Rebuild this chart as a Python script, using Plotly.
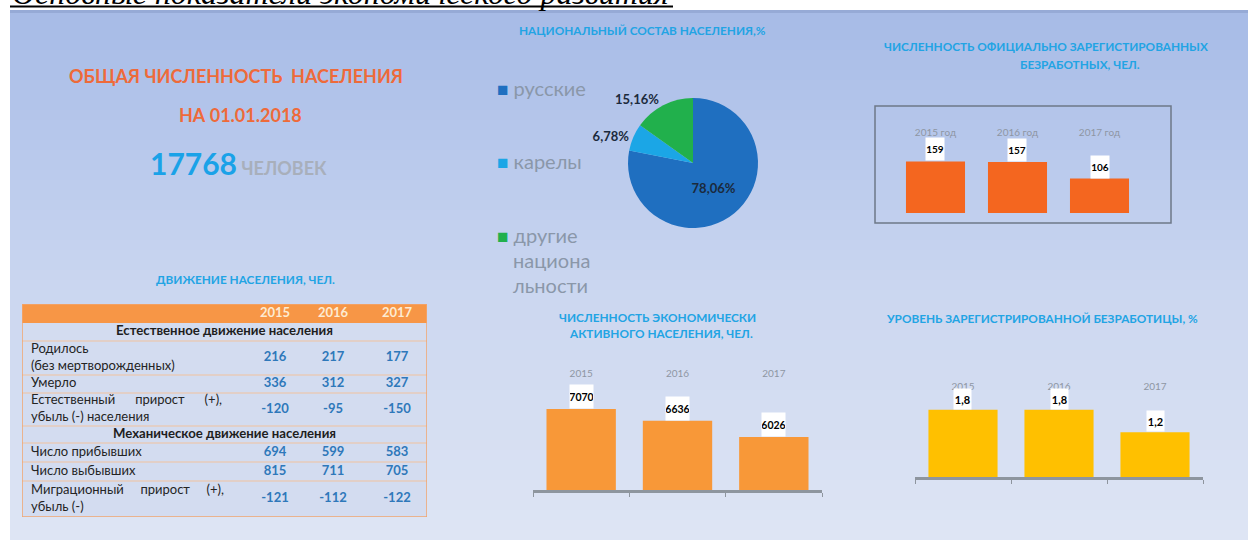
import plotly.graph_objects as go

W, H = 1248, 540


def px(x):
    return x / W


def py(y):
    return 1 - y / H


# ---------------- DATA ----------------
page_title = "Основные показатели экономического развития"
total_population = 17768
population_date = "01.01.2018"

nat_labels = ["русские", "карелы", "другие национальности"]
nat_values = [78.06, 6.78, 15.16]

years = ["2015", "2016", "2017"]
unemployed_count = [159, 157, 106]
active_population = [7070, 6636, 6026]
unemployment_rate = [1.8, 1.8, 1.2]

section_titles = ["Естественное движение населения", "Механическое движение населения"]
natural_rows = ["Родилось<br>(без мертворожденных)", "Умерло",
                "Естественный\u00a0\u00a0\u00a0\u00a0\u00a0 прирост\u00a0\u00a0\u00a0\u00a0\u00a0 (+),<br>убыль (-) населения"]
mechanical_rows = ["Число прибывших", "Число выбывших",
                   "Миграционный\u00a0\u00a0\u00a0\u00a0 прирост\u00a0\u00a0\u00a0\u00a0 (+),<br>убыль (-)"]
values_2015 = [216, 336, -120, 694, 815, -121]
values_2016 = [217, 312, -95, 599, 711, -112]
values_2017 = [177, 327, -150, 583, 705, -122]

# ---------------- STYLE ----------------
FONT = "Lato"
TITLE_BLUE = "#22A4E4"
TSIZE = 11.8
PIE_COLORS = ["#1F6FC0", "#1BA6E6", "#21B04C"]
GREY = "#8E96A3"


def comma(v, nd):
    return f"{v:.{nd}f}".replace(".", ",")


fig = go.Figure()

# ---------------- background gradient ----------------
stops = [(10, (166, 186, 230)), (150, (184, 201, 236)), (300, (204, 215, 240)), (540, (222, 229, 244))]


def grad(y):
    for (y0, c0), (y1, c1) in zip(stops[:-1], stops[1:]):
        if y0 <= y <= y1:
            t = (y - y0) / (y1 - y0)
            return tuple(round(a + (b - a) * t) for a, b in zip(c0, c1))
    return stops[-1][1]


shapes = []
band = 10
y = 10
while y < H:
    c = grad(y + band / 2)
    shapes.append(dict(type="rect", xref="paper", yref="paper", layer="below",
                       x0=px(10), x1=1, y0=py(min(y + band, H)), y1=py(y),
                       line=dict(width=0), fillcolor=f"rgb{c}"))
    y += band
shapes.append(dict(type="rect", xref="paper", yref="paper", layer="below",
                   x0=px(10), x1=1, y0=py(13), y1=py(10), line=dict(width=0),
                   fillcolor="rgb(150,170,214)"))
# underline of page title
shapes.append(dict(type="line", xref="paper", yref="paper", x0=px(10), x1=px(673),
                   y0=py(6.5), y1=py(6.5), line=dict(color="black", width=2)))
# frame around unemployed-count chart
shapes.append(dict(type="rect", xref="paper", yref="paper", x0=px(875), x1=px(1171),
                   y0=py(223), y1=py(106), line=dict(color="#6E7888", width=1.5)))

# ---------------- pie ----------------
fig.add_trace(go.Pie(
    labels=nat_labels, values=nat_values, sort=False, direction="clockwise", rotation=0,
    marker=dict(colors=PIE_COLORS, line=dict(width=0)),
    text=[f"<b>{comma(v, 2)}%</b>" for v in nat_values], textinfo="text",
    textposition=["inside", "outside", "outside"], insidetextorientation="horizontal",
    textfont=dict(family=FONT, size=13, color="#1B2A3C"),
    domain=dict(x=[px(628), px(758)], y=[py(228), py(98)]),
    showlegend=False, hoverinfo="label+percent",
))

# ---------------- chart A: unemployed count ----------------
catA = [f"{y} год" for y in years]
fig.add_trace(go.Bar(x=catA, y=unemployed_count, marker=dict(color="#F4661F", line=dict(width=0)),
                     xaxis="x", yaxis="y", showlegend=False))

# ---------------- chart B: economically active ----------------
fig.add_trace(go.Bar(x=years, y=active_population, marker=dict(color="#F89838", line=dict(width=0)),
                     xaxis="x2", yaxis="y2", showlegend=False))
fig.add_trace(go.Scatter(x=years, y=active_population, mode="markers", marker=dict(opacity=0),
                         xaxis="x3", yaxis="y2", showlegend=False, hoverinfo="skip"))

# ---------------- chart C: unemployment rate ----------------
fig.add_trace(go.Bar(x=years, y=unemployment_rate, marker=dict(color="#FFC000", line=dict(width=0)),
                     xaxis="x4", yaxis="y3", showlegend=False))
fig.add_trace(go.Scatter(x=years, y=unemployment_rate, mode="markers", marker=dict(opacity=0),
                         xaxis="x5", yaxis="y3", showlegend=False, hoverinfo="skip"))

# ---------------- table (own subplot x6/y6, pixel-like units) ----------------
TW, TH = 405, 213
row_heights = [19, 18, 34, 18, 33, 17, 19, 19, 36]   # header, sec1, 3 rows, sec2, 3 rows
bounds = [0]
for h in row_heights:
    bounds.append(bounds[-1] + h)
centers = [(a + b) / 2 for a, b in zip(bounds[:-1], bounds[1:])]
head_c = centers[0]
sec_c = [centers[1], centers[5]]
data_c = centers[2:5] + centers[6:9]
col_x = [253, 311, 375]

tab_shapes = [
    dict(type="rect", xref="x6", yref="y6", layer="below", x0=0, x1=TW, y0=0, y1=TH,
         fillcolor="#D3DCF0", line=dict(width=0)),
    dict(type="rect", xref="x6", yref="y6", layer="below", x0=0, x1=TW, y0=0, y1=row_heights[0],
         fillcolor="#F79646", line=dict(width=0)),
]
for b in bounds[2:-1]:
    tab_shapes.append(dict(type="line", xref="x6", yref="y6", layer="below", x0=0, x1=TW, y0=b, y1=b,
                           line=dict(color="#F2C29E", width=1.2)))
tab_shapes.append(dict(type="rect", xref="x6", yref="y6", x0=0, x1=TW, y0=0, y1=TH,
                       line=dict(color="#F2A56E", width=1.5)))
shapes += tab_shapes

tab_common = dict(mode="text", xaxis="x6", yaxis="y6", showlegend=False, hoverinfo="skip",
                  cliponaxis=False)
fig.add_trace(go.Scatter(x=col_x, y=[head_c] * 3, text=[f"<b>{y}</b>" for y in years],
                         textposition="middle center",
                         textfont=dict(family=FONT, size=13, color="#FDEBD2"), **tab_common))
fig.add_trace(go.Scatter(x=[TW / 2] * 2, y=sec_c, text=[f"<b>{s}</b>" for s in section_titles],
                         textposition="middle center",
                         textfont=dict(family=FONT, size=13.2, color="#1E1E1E"), **tab_common))
fig.add_trace(go.Scatter(x=[9] * 6, y=data_c, text=natural_rows + mechanical_rows,
                         textposition="middle right",
                         textfont=dict(family=FONT, size=13, color="#242424"), **tab_common))
for cx, vals in zip(col_x, [values_2015, values_2016, values_2017]):
    fig.add_trace(go.Scatter(x=[cx] * len(vals), y=data_c, text=[f"<b>{v}</b>" for v in vals],
                             textposition="middle center",
                             textfont=dict(family=FONT, size=13, color="#2E78BA"), **tab_common))

# ---------------- annotations ----------------
ann = []


def text(x, y, t, size, color, xanchor="center", bold=True, family=FONT, yanchor="middle"):
    ann.append(dict(x=px(x), y=py(y), xref="paper", yref="paper", text=t, showarrow=False,
                    xanchor=xanchor, yanchor=yanchor,
                    font=dict(family=family, size=size, color=color, weight="bold" if bold else "normal")))


# page title (cut at top)
ann.append(dict(x=px(10), y=py(13), xref="paper", yref="paper", showarrow=False,
                xanchor="left", yanchor="bottom", text=f"<i>{page_title}</i>",
                font=dict(family="Liberation Serif", size=32, color="black")))

text(236, 76, "ОБЩАЯ ЧИСЛЕННОСТЬ  НАСЕЛЕНИЯ", 18, "#EE6A3A")
text(240, 115, f"НА {population_date}", 18, "#EE6A3A")
text(238, 163, f"<span style='font-size:30px;color:#1AA2E8'>{total_population}</span> "
               f"<span style='color:#A8AFBB'>ЧЕЛОВЕК</span>", 18, "#A8AFBB")

text(643, 31, "НАЦИОНАЛЬНЫЙ СОСТАВ НАСЕЛЕНИЯ,%", TSIZE, TITLE_BLUE)
text(1046, 47, "ЧИСЛЕННОСТЬ ОФИЦИАЛЬНО ЗАРЕГИСТИРОВАННЫХ", TSIZE, TITLE_BLUE)
text(1080, 65, "БЕЗРАБОТНЫХ, ЧЕЛ.", TSIZE, TITLE_BLUE)
text(245, 279, "ДВИЖЕНИЕ НАСЕЛЕНИЯ, ЧЕЛ.", TSIZE, TITLE_BLUE)
text(657, 317, "ЧИСЛЕННОСТЬ ЭКОНОМИЧЕСКИ", TSIZE, TITLE_BLUE)
text(661, 333, "АКТИВНОГО НАСЕЛЕНИЯ, ЧЕЛ.", TSIZE, TITLE_BLUE)
text(1042, 318, "УРОВЕНЬ ЗАРЕГИСТРИРОВАННОЙ БЕЗРАБОТИЦЫ, %", TSIZE, TITLE_BLUE)

# pie legend
LEG = "#8A97A9"
legend_y = [88, 161, 235]
legend_lines = [[nat_labels[0]], [nat_labels[1]], ["другие", "национа", "льности"]]
for col, yy, lines in zip(PIE_COLORS, legend_y, legend_lines):
    text(495, yy, f"<span style='color:{col};font-size:19px'>■</span>\u00a0{lines[0]}", 20, LEG,
         xanchor="left", bold=False)
    for k, extra in enumerate(lines[1:]):
        text(511, yy + 25 * (k + 1), extra, 20, LEG, xanchor="left", bold=False)

# value labels on bars
for i, v in enumerate(unemployed_count):
    ann.append(dict(x=i, y=v, xref="x", yref="y", text=f"<b>{v}</b>", showarrow=False,
                    yanchor="bottom", bgcolor="white", width=18, height=22, borderpad=0,
                    font=dict(family=FONT, size=10, color="black")))
for i, v in enumerate(active_population):
    ann.append(dict(x=i, y=v, xref="x2", yref="y2", text=f"<b>{v}</b>", showarrow=False,
                    yanchor="bottom", bgcolor="white", width=23, height=23, borderpad=0,
                    font=dict(family=FONT, size=10.5, color="black")))
for i, v in enumerate(unemployment_rate):
    ann.append(dict(x=i, y=v, xref="x4", yref="y3", text=f"<b>{comma(v, 1)}</b>", showarrow=False,
                    yanchor="bottom", bgcolor="white", width=17, height=20, borderpad=0,
                    font=dict(family=FONT, size=11, color="black")))

tickfont = dict(family=FONT, size=10, color=GREY)
hidden_y = dict(visible=False, showgrid=False, zeroline=False, fixedrange=True)
cat_rng = [-0.5, 2.5]

fig.update_layout(
    width=W, height=H, autosize=False,
    margin=dict(l=0, r=0, t=0, b=0),
    paper_bgcolor="white", plot_bgcolor="rgba(0,0,0,0)",
    bargap=0.28,
    shapes=shapes, annotations=ann,
    font=dict(family=FONT),
    xaxis=dict(domain=[px(894.5), px(1140.5)], anchor="y", side="top", type="category", range=cat_rng,
               showline=False, showgrid=False, zeroline=False, ticks="",
               tickfont=dict(family=FONT, size=10, color=GREY)),
    yaxis=dict(domain=[py(213), py(139)], range=[0, 228], **hidden_y),
    xaxis2=dict(domain=[px(533), px(822)], anchor="y2", type="category", range=cat_rng,
                showline=True, linecolor="#8E959E", linewidth=2.5, showgrid=False, zeroline=False,
                ticks="outside", tickson="boundaries", ticklen=4, tickcolor="#8E959E", tickwidth=1,
                showticklabels=False),
    xaxis3=dict(overlaying="x2", anchor="y2", side="top", type="category", range=cat_rng,
                showline=False, showgrid=False, zeroline=False, ticks="", tickfont=tickfont),
    yaxis2=dict(domain=[py(490), py(380)], range=[4050, 8151], **hidden_y),
    xaxis4=dict(domain=[px(915), px(1203)], anchor="y3", type="category", range=cat_rng,
                showline=True, linecolor="#8E959E", linewidth=2.5, showgrid=False, zeroline=False,
                ticks="outside", tickson="boundaries", ticklen=4, tickcolor="#8E959E", tickwidth=1,
                showticklabels=False),
    xaxis5=dict(overlaying="x4", anchor="y3", side="top", type="category", range=cat_rng,
                showline=False, showgrid=False, zeroline=False, ticks="", tickfont=tickfont),
    yaxis3=dict(domain=[py(477), py(393)], range=[0, 2.25], **hidden_y),
    xaxis6=dict(domain=[px(22), px(427)], anchor="y6", range=[0, TW], visible=False, fixedrange=True),
    yaxis6=dict(domain=[py(517), py(304)], anchor="x6", range=[TH, 0], visible=False, fixedrange=True),
)

fig.write_html("out.html", config={"displayModeBar": False},
               post_script="document.body.style.margin='0';")
